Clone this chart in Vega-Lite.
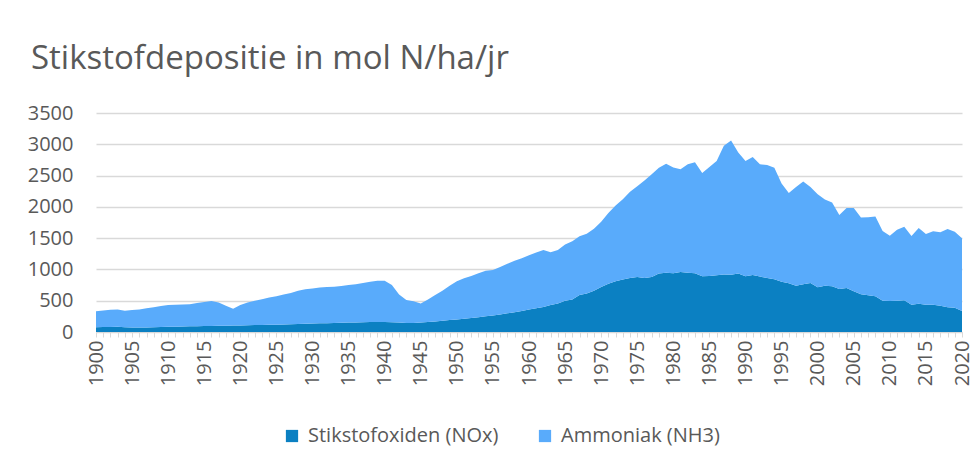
{
 "$schema": "https://vega.github.io/schema/vega-lite/v6.json",
 "width": 866,
 "height": 219,
 "autosize": "none",
 "padding": {"left": 96, "top": 113, "right": 16, "bottom": 137},
 "background": "white",
 "title": {"text": "Stikstofdepositie in mol N/ha/jr", "anchor": "start", "frame": "group", "dx": -65, "offset": 27, "fontSize": 33, "font": "Open Sans", "fontWeight": "normal", "color": "#595959"},
 "data": {"values": [
  {"jaar":1900,"nox":75,"nh3":255},{"jaar":1901,"nox":78,"nh3":267},{"jaar":1902,"nox":80,"nh3":275},{"jaar":1903,"nox":82,"nh3":278},{"jaar":1904,"nox":75,"nh3":265},
  {"jaar":1905,"nox":72,"nh3":278},{"jaar":1906,"nox":72,"nh3":288},{"jaar":1907,"nox":73,"nh3":307},{"jaar":1908,"nox":75,"nh3":320},{"jaar":1909,"nox":78,"nh3":337},
  {"jaar":1910,"nox":82,"nh3":348},{"jaar":1911,"nox":85,"nh3":350},{"jaar":1912,"nox":87,"nh3":351},{"jaar":1913,"nox":90,"nh3":355},{"jaar":1914,"nox":92,"nh3":373},
  {"jaar":1915,"nox":95,"nh3":385},{"jaar":1916,"nox":97,"nh3":398},{"jaar":1917,"nox":98,"nh3":372},{"jaar":1918,"nox":100,"nh3":320},{"jaar":1919,"nox":102,"nh3":268},
  {"jaar":1920,"nox":105,"nh3":325},{"jaar":1921,"nox":107,"nh3":363},{"jaar":1922,"nox":110,"nh3":390},{"jaar":1923,"nox":112,"nh3":413},{"jaar":1924,"nox":114,"nh3":436},
  {"jaar":1925,"nox":117,"nh3":453},{"jaar":1926,"nox":120,"nh3":480},{"jaar":1927,"nox":124,"nh3":501},{"jaar":1928,"nox":128,"nh3":532},{"jaar":1929,"nox":132,"nh3":553},
  {"jaar":1930,"nox":136,"nh3":559},{"jaar":1931,"nox":138,"nh3":572},{"jaar":1932,"nox":140,"nh3":580},{"jaar":1933,"nox":143,"nh3":582},{"jaar":1934,"nox":146,"nh3":589},
  {"jaar":1935,"nox":150,"nh3":600},{"jaar":1936,"nox":153,"nh3":612},{"jaar":1937,"nox":156,"nh3":629},{"jaar":1938,"nox":158,"nh3":647},{"jaar":1939,"nox":160,"nh3":660},
  {"jaar":1940,"nox":158,"nh3":662},{"jaar":1941,"nox":155,"nh3":595},{"jaar":1942,"nox":150,"nh3":450},{"jaar":1943,"nox":145,"nh3":365},{"jaar":1944,"nox":145,"nh3":345},
  {"jaar":1945,"nox":150,"nh3":305},{"jaar":1946,"nox":158,"nh3":362},{"jaar":1947,"nox":168,"nh3":422},{"jaar":1948,"nox":180,"nh3":480},{"jaar":1949,"nox":190,"nh3":550},
  {"jaar":1950,"nox":200,"nh3":610},{"jaar":1951,"nox":210,"nh3":650},{"jaar":1952,"nox":222,"nh3":673},{"jaar":1953,"nox":235,"nh3":705},{"jaar":1954,"nox":250,"nh3":730},
  {"jaar":1955,"nox":265,"nh3":725},{"jaar":1956,"nox":280,"nh3":760},{"jaar":1957,"nox":298,"nh3":792},{"jaar":1958,"nox":315,"nh3":825},{"jaar":1959,"nox":335,"nh3":845},
  {"jaar":1960,"nox":360,"nh3":865},{"jaar":1961,"nox":380,"nh3":890},{"jaar":1962,"nox":400,"nh3":910},{"jaar":1963,"nox":430,"nh3":845},{"jaar":1964,"nox":455,"nh3":855},
  {"jaar":1965,"nox":500,"nh3":900},{"jaar":1966,"nox":520,"nh3":930},{"jaar":1967,"nox":590,"nh3":940},{"jaar":1968,"nox":615,"nh3":955},{"jaar":1969,"nox":660,"nh3":990},
  {"jaar":1970,"nox":720,"nh3":1040},{"jaar":1971,"nox":770,"nh3":1130},{"jaar":1972,"nox":810,"nh3":1210},{"jaar":1973,"nox":840,"nh3":1280},{"jaar":1974,"nox":865,"nh3":1375},
  {"jaar":1975,"nox":880,"nh3":1450},{"jaar":1976,"nox":865,"nh3":1555},{"jaar":1977,"nox":880,"nh3":1640},{"jaar":1978,"nox":935,"nh3":1692},{"jaar":1979,"nox":945,"nh3":1745},
  {"jaar":1980,"nox":940,"nh3":1690},{"jaar":1981,"nox":960,"nh3":1640},{"jaar":1982,"nox":945,"nh3":1735},{"jaar":1983,"nox":940,"nh3":1772},{"jaar":1984,"nox":890,"nh3":1651},
  {"jaar":1985,"nox":895,"nh3":1742},{"jaar":1986,"nox":905,"nh3":1828},{"jaar":1987,"nox":920,"nh3":2055},{"jaar":1988,"nox":915,"nh3":2145},{"jaar":1989,"nox":933,"nh3":1937},
  {"jaar":1990,"nox":890,"nh3":1843},{"jaar":1991,"nox":911,"nh3":1886},{"jaar":1992,"nox":885,"nh3":1795},{"jaar":1993,"nox":863,"nh3":1806},{"jaar":1994,"nox":842,"nh3":1785},
  {"jaar":1995,"nox":805,"nh3":1567},{"jaar":1996,"nox":778,"nh3":1444},{"jaar":1997,"nox":741,"nh3":1577},{"jaar":1998,"nox":762,"nh3":1642},{"jaar":1999,"nox":783,"nh3":1535},
  {"jaar":2000,"nox":714,"nh3":1487},{"jaar":2001,"nox":741,"nh3":1375},{"jaar":2002,"nox":730,"nh3":1338},{"jaar":2003,"nox":687,"nh3":1183},{"jaar":2004,"nox":703,"nh3":1279},
  {"jaar":2005,"nox":650,"nh3":1332},{"jaar":2006,"nox":602,"nh3":1226},{"jaar":2007,"nox":586,"nh3":1249},{"jaar":2008,"nox":570,"nh3":1274},{"jaar":2009,"nox":501,"nh3":1113},
  {"jaar":2010,"nox":496,"nh3":1044},{"jaar":2011,"nox":501,"nh3":1135},{"jaar":2012,"nox":507,"nh3":1177},{"jaar":2013,"nox":437,"nh3":1097},{"jaar":2014,"nox":453,"nh3":1209},
  {"jaar":2015,"nox":437,"nh3":1129},{"jaar":2016,"nox":437,"nh3":1172},{"jaar":2017,"nox":421,"nh3":1172},{"jaar":2018,"nox":394,"nh3":1252},{"jaar":2019,"nox":389,"nh3":1215},
  {"jaar":2020,"nox":336,"nh3":1161}
 ]},
 "transform": [{"fold": ["nox", "nh3"], "as": ["reeks", "waarde"]}],
 "mark": {"type": "area", "interpolate": "linear"},
 "encoding": {
  "x": {"field": "jaar", "type": "quantitative", "title": null,
   "scale": {"domain": [1900, 2020], "nice": false, "zero": false},
   "axis": {"tickCount": 120, "labelExpr": "datum.value % 5 === 0 ? datum.value : ''", "labelAngle": -90, "labelAlign": "right", "labelBaseline": "middle", "labelOverlap": false, "labelFlush": false, "grid": false, "domainColor": "#d9d9d9", "tickColor": "#d9d9d9", "tickSize": 5, "labelPadding": 3, "labelFont": "Open Sans", "labelFontSize": 20, "labelColor": "#595959"}},
  "y": {"field": "waarde", "type": "quantitative", "stack": "zero", "title": null,
   "scale": {"domain": [0, 3500], "nice": false},
   "axis": {"values": [0, 500, 1000, 1500, 2000, 2500, 3000, 3500], "format": "d", "domain": false, "ticks": false, "gridColor": "#d9d9d9", "gridWidth": 1.3, "labelPadding": 23, "labelFont": "Open Sans", "labelFontSize": 20, "labelColor": "#595959"}},
  "color": {"field": "reeks", "type": "nominal",
   "scale": {"domain": ["nox", "nh3"], "range": ["#0B80C2", "#59ABFB"]},
   "legend": {"title": null, "orient": "none", "direction": "horizontal", "legendX": 186, "legendY": 313, "symbolType": "square", "symbolSize": 150, "symbolStrokeWidth": 0, "labelFont": "Open Sans", "labelFontSize": 20, "labelColor": "#595959", "labelLimit": 400, "columnPadding": 36, "labelOffset": 6,
    "labelExpr": "datum.value == 'nox' ? 'Stikstofoxiden (NOx)' : 'Ammoniak (NH3)'"}},
  "order": {"field": "reeks", "sort": "descending"}
 },
 "config": {"view": {"stroke": null}}
}
